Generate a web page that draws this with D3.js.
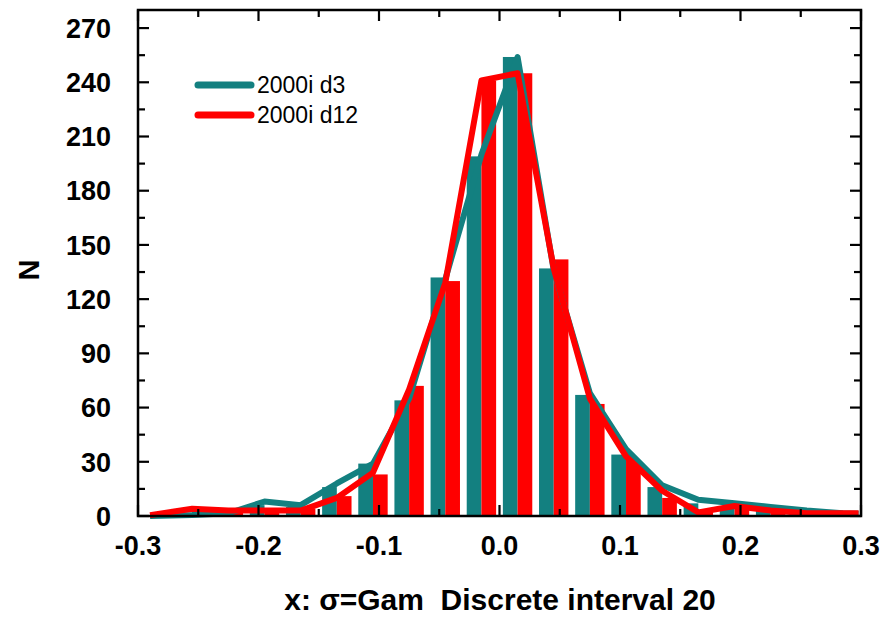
<!DOCTYPE html>
<html>
<head>
<meta charset="utf-8">
<script src="https://cdn.jsdelivr.net/npm/d3@7"></script>
<style>
  html, body { margin: 0; padding: 0; background: #fff; }
  svg { display: block; font-family: "Liberation Sans", Arial, sans-serif; }
</style>
</head>
<body>
<svg id="chart" width="884" height="617"></svg>
<script>
// Histogram of 20 discrete intervals on [-0.3, 0.3]
const binCenters = [-0.285, -0.255, -0.225, -0.195, -0.165, -0.135, -0.105, -0.075, -0.045, -0.015,
                     0.015,  0.045,  0.075,  0.105,  0.135,  0.165,  0.195,  0.225,  0.255,  0.285];
const d3Bars  = [0, 1, 1, 6, 5, 16, 29, 64, 132, 199, 254, 137, 67, 34, 16, 7, 5, 3, 1, 1];
const d12Bars = [0, 3, 2, 2, 4, 11, 23, 72, 130, 241, 245, 142, 62, 31, 10, 3, 5, 4, 1, 1];

// envelope curves: bin centers plus a closing point at the right edge
const lineX   = [-0.29, -0.255, -0.225, -0.195, -0.165, -0.135, -0.105, -0.075, -0.045, -0.015,
                  0.015,  0.045,  0.075,  0.105,  0.135,  0.165,  0.195,  0.225,  0.255,  0.285, 0.298];
const d3Line  = [0, 0.5, 1.5, 8, 6, 18, 29, 65, 131, 200, 254, 136, 68, 37, 17, 9, 7, 5, 3, 1.5, 1.2];
const d12Line = [0.5, 4, 3, 3, 3, 10, 24, 70, 129, 241, 245, 137, 65, 33, 14, 2, 5.5, 3, 1.5, 1.5, 1.5];

const seriesNames = ["2000i d3", "2000i d12"];
const xTicks = [-0.3, -0.2, -0.1, 0.0, 0.1, 0.2, 0.3];
const xTickLabels = ["-0.3", "-0.2", "-0.1", "0.0", "0.1", "0.2", "0.3"];
const yTicks = [0, 30, 60, 90, 120, 150, 180, 210, 240, 270];

const TEAL = "#138080";
const RED = "#ff0000";
const barWidth = 0.0122;

const svg = d3.select("#chart");
const plotLeft = 138, plotRight = 861, plotTop = 10, plotBottom = 516;

const x = d3.scaleLinear().domain([-0.3, 0.3]).range([plotLeft, plotRight]);
const y = d3.scaleLinear().domain([0, 280]).range([plotBottom, plotTop]);

const plot = svg.append("g");

// bars: d3 to the left of each bin center, d12 to the right
plot.selectAll("rect.d3").data(binCenters).join("rect")
  .attr("class", "d3")
  .attr("x", c => x(c - barWidth))
  .attr("width", x(barWidth) - x(0))
  .attr("y", (c, i) => y(d3Bars[i]))
  .attr("height", (c, i) => y(0) - y(d3Bars[i]))
  .attr("fill", TEAL);

plot.selectAll("rect.d12").data(binCenters).join("rect")
  .attr("class", "d12")
  .attr("x", c => x(c))
  .attr("width", x(barWidth) - x(0))
  .attr("y", (c, i) => y(d12Bars[i]))
  .attr("height", (c, i) => y(0) - y(d12Bars[i]))
  .attr("fill", RED);

// envelope lines
const line = d3.line().x(d => x(d[0])).y(d => y(d[1]));
plot.append("path")
  .datum(lineX.map((c, i) => [c, d3Line[i]]))
  .attr("d", line).attr("fill", "none")
  .attr("stroke", TEAL).attr("stroke-width", 6)
  .attr("stroke-linejoin", "round");
plot.append("path")
  .datum(lineX.map((c, i) => [c, d12Line[i]]))
  .attr("d", line).attr("fill", "none")
  .attr("stroke", RED).attr("stroke-width", 6)
  .attr("stroke-linejoin", "round");

// frame
svg.append("rect")
  .attr("x", plotLeft).attr("y", plotTop)
  .attr("width", plotRight - plotLeft).attr("height", plotBottom - plotTop)
  .attr("fill", "none").attr("stroke", "#000").attr("stroke-width", 2.5);

// inward ticks on all four sides, minor ticks halfway
const xMinor = [-0.25, -0.15, -0.05, 0.05, 0.15, 0.25];
const yMinor = [15, 45, 75, 105, 135, 165, 195, 225, 255];
const ticks = svg.append("g").attr("stroke", "#000").attr("stroke-width", 2.2);
function xTick(t, len) {
  ticks.append("line").attr("x1", x(t)).attr("x2", x(t)).attr("y1", plotBottom).attr("y2", plotBottom - len);
  ticks.append("line").attr("x1", x(t)).attr("x2", x(t)).attr("y1", plotTop).attr("y2", plotTop + len);
}
function yTick(t, len) {
  ticks.append("line").attr("y1", y(t)).attr("y2", y(t)).attr("x1", plotLeft).attr("x2", plotLeft + len);
  ticks.append("line").attr("y1", y(t)).attr("y2", y(t)).attr("x1", plotRight).attr("x2", plotRight - len);
}
xTicks.forEach(t => xTick(t, 11));
xMinor.forEach(t => xTick(t, 7));
yTicks.forEach(t => yTick(t, 11));
yMinor.forEach(t => yTick(t, 7));

// tick labels
svg.append("g").selectAll("text").data(xTicks).join("text")
  .attr("x", d => x(d)).attr("y", 555)
  .attr("text-anchor", "middle")
  .attr("font-size", 27).attr("font-weight", "bold")
  .text((d, i) => xTickLabels[i]);

svg.append("g").selectAll("text").data(yTicks).join("text")
  .attr("x", 111).attr("y", d => y(d))
  .attr("dy", "0.36em")
  .attr("text-anchor", "end")
  .attr("font-size", 27).attr("font-weight", "bold")
  .text(d => d);

// axis titles
svg.append("text")
  .attr("transform", "translate(39,270) rotate(-90)")
  .attr("text-anchor", "middle")
  .attr("font-size", 29).attr("font-weight", "bold")
  .text("N");

svg.append("text")
  .attr("x", 500).attr("y", 610)
  .attr("text-anchor", "middle")
  .attr("font-size", 30).attr("font-weight", "bold")
  .style("white-space", "pre")
  .text("x: σ=Gam  Discrete interval 20");

// legend
const legend = svg.append("g");
[TEAL, RED].forEach((col, i) => {
  const ly = 85 + i * 30;
  legend.append("line")
    .attr("x1", 198).attr("x2", 251).attr("y1", ly).attr("y2", ly)
    .attr("stroke", col).attr("stroke-width", 7).attr("stroke-linecap", "round");
  legend.append("text")
    .attr("x", 257).attr("y", ly).attr("dy", "0.36em")
    .attr("font-size", 23)
    .text(seriesNames[i]);
});
</script>
</body>
</html>
